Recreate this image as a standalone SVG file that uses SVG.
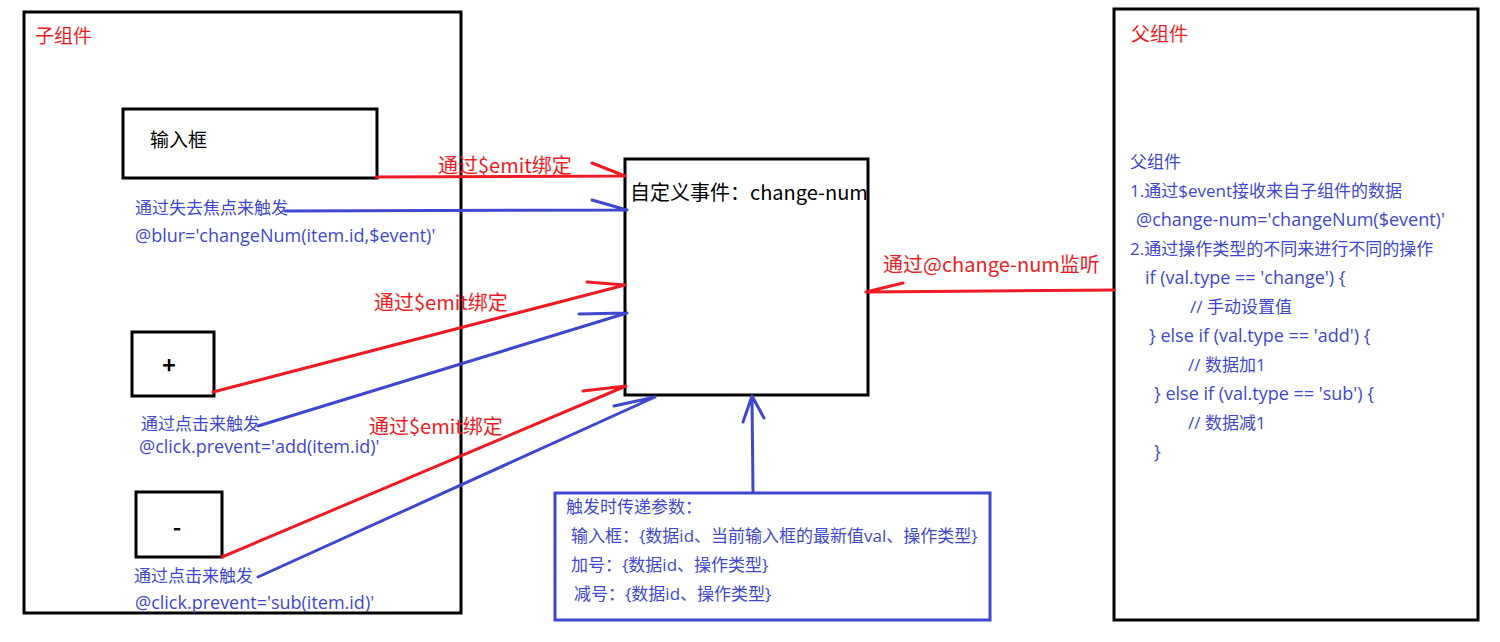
<svg xmlns="http://www.w3.org/2000/svg" width="1500" height="642" viewBox="0 0 1500 642">
<style>
  text { font-family: "Noto Sans CJK SC", "Noto Sans", sans-serif; }
  .box { fill: #fff; stroke: #000; stroke-width: 3; }
  .bbox { fill: #fff; stroke: #3f48cc; stroke-width: 3; }
  .red { fill: #ed1c24; }
  .blue { fill: #3f48cc; font-size: 17px; font-family: "Open Sans", "Noto Sans CJK SC", sans-serif; }
  .lat { font-size: 18px; }
  .blk { fill: #000; }
  .r { fill: none; stroke: #ed1c24; stroke-width: 3; stroke-linecap: round; }
  .b { fill: none; stroke: #3f48cc; stroke-width: 3; stroke-linecap: round; }
</style>
<rect width="1500" height="642" fill="#fff"/>
<g id="child">
  <rect class="box" x="24" y="12" width="437" height="601"/>
  <text class="red" x="35" y="43" font-size="19">子组件</text>
</g>
<g id="input">
  <rect class="box" x="123" y="109" width="254" height="69"/>
  <text class="blk" x="150" y="147" font-size="19">输入框</text>
</g>
<g id="plus">
  <rect class="box" x="132" y="332" width="82" height="64"/>
  <text class="blk" x="169" y="374" font-size="23" font-weight="bold" text-anchor="middle">+</text>
</g>
<g id="minus">
  <rect class="box" x="136" y="492" width="86" height="65"/>
  <text class="blk" x="177" y="536" font-size="23" font-weight="bold" text-anchor="middle">-</text>
</g>
<g id="event">
  <rect class="box" x="625" y="159" width="243" height="236"/>
  <text class="blk" x="630" y="200" font-size="20">自定义事件：change-num</text>
</g>
<g id="params">
  <rect class="bbox" x="555" y="493" width="435" height="127"/>
  <text class="blue" x="566" y="513">触发时传递参数：</text>
  <text class="blue" x="571" y="542">输入框：{数据id、当前输入框的最新值val、操作类型}</text>
  <text class="blue" x="571" y="571">加号：{数据id、操作类型}</text>
  <text class="blue" x="574" y="600">减号：{数据id、操作类型}</text>
</g>
<g id="parent">
  <rect class="box" x="1114" y="9" width="364" height="611"/>
  <text class="red" x="1131" y="41" font-size="19">父组件</text>
  <text class="blue" x="1130" y="168">父组件</text>
  <text class="blue" x="1130" y="197">1.通过$event接收来自子组件的数据</text>
  <text class="blue lat" x="1136" y="226">@change-num='changeNum($event)'</text>
  <text class="blue" x="1130" y="255">2.通过操作类型的不同来进行不同的操作</text>
  <text class="blue lat" x="1145" y="284">if (val.type == 'change') {</text>
  <text class="blue" x="1190" y="313">// 手动设置值</text>
  <text class="blue lat" x="1149" y="342">} else if (val.type == 'add') {</text>
  <text class="blue" x="1188" y="371">// 数据加1</text>
  <text class="blue lat" x="1154" y="400">} else if (val.type == 'sub') {</text>
  <text class="blue" x="1188" y="429">// 数据减1</text>
  <text class="blue lat" x="1154" y="458">}</text>
</g>
<g id="connectors">
  <path class="r" d="M376,177 L625,176 M592,163 L625,176"/>
  <path class="b" d="M285,211 L627,210 M592,200 L627,210"/>
  <path class="r" d="M213,392 L625,285 M587,282 L625,285"/>
  <path class="b" d="M258,426 L627,313 M579,314 L627,313"/>
  <path class="r" d="M222,557 L626,386 M583,391 L626,386"/>
  <path class="b" d="M258,577 L655,397 M614,406 L655,397"/>
  <path class="b" d="M753,492 L752,397 M743,422 L752,396 M764,418 L752,396"/>
  <path class="r" d="M1114,290 L866,292 M903,283 L866,292"/>
</g>
<g id="labels">
  <text class="blue" x="135" y="214">通过失去焦点来触发</text>
  <text class="blue lat" x="135" y="242">@blur='changeNum(item.id,$event)'</text>
  <text class="blue" x="141" y="430">通过点击来触发</text>
  <text class="blue lat" x="139" y="453">@click.prevent='add(item.id)'</text>
  <text class="blue" x="134" y="582">通过点击来触发</text>
  <text class="blue lat" x="135" y="609">@click.prevent='sub(item.id)'</text>
  <text class="red" x="438" y="173" font-size="20">通过$emit绑定</text>
  <text class="red" x="374" y="310" font-size="20">通过$emit绑定</text>
  <text class="red" x="369" y="434" font-size="20">通过$emit绑定</text>
  <text class="red" x="883" y="272" font-size="20">通过@change-num监听</text>
</g>
</svg>
